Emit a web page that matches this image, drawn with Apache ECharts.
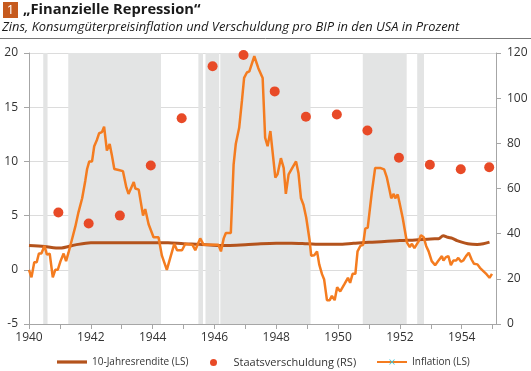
<!DOCTYPE html>
<html><head><meta charset="utf-8">
<script src="https://cdn.jsdelivr.net/npm/echarts@6/dist/echarts.min.js"></script>
<style>html,body{margin:0;padding:0;background:#fff}#c{width:531px;height:371px}</style>
</head><body><div id="c"></div>
<script>
// ---- data ----
const xTickYears = [1940,1942,1944,1946,1948,1950,1952,1954];
const leftTicks = [-5,0,5,10,15,20];
const rightTicks = [0,20,40,60,80,100,120];

const renditeDates = [1940.0,1940.5,1941.0,1941.5,1942.0,1943.0,1944.0,1944.5,1945.0,1945.5,1946.1,1946.5,1947.0,1947.5,1948.0,1948.5,1949.0,1949.5,1950.0,1950.5,1951.0,1951.5,1952.0,1952.5,1953.0,1953.25,1953.4,1953.55,1953.7,1953.85,1954.0,1954.2,1954.35,1954.5,1954.7,1954.9];
const renditeValues = [2.25,2.15,2.0,2.3,2.5,2.5,2.5,2.5,2.4,2.35,2.25,2.25,2.3,2.4,2.45,2.45,2.4,2.35,2.35,2.45,2.55,2.6,2.7,2.75,2.85,2.86,3.15,3.0,2.9,2.7,2.55,2.4,2.35,2.34,2.4,2.55];

const debtDates = [1940.95,1941.93,1942.94,1943.94,1944.94,1945.94,1946.94,1947.95,1948.96,1949.96,1950.95,1951.97,1952.97,1953.97,1954.89];
const debtValues = [49.4,44.5,48.0,70.2,91.1,114.1,119.1,103.0,91.8,92.8,85.7,73.6,70.5,68.5,69.4];

const inflationDates = [1940.00,1940.08,1940.17,1940.25,1940.32,1940.40,1940.50,1940.58,1940.67,1940.77,1940.85,1940.93,1941.02,1941.12,1941.20,1941.28,1941.39,1941.50,1941.60,1941.72,1941.82,1941.88,1941.95,1942.04,1942.11,1942.20,1942.27,1942.36,1942.43,1942.52,1942.61,1942.68,1942.76,1942.90,1943.04,1943.15,1943.22,1943.39,1943.44,1943.55,1943.69,1943.76,1943.87,1944.03,1944.19,1944.30,1944.46,1944.57,1944.70,1944.79,1944.95,1945.06,1945.29,1945.38,1945.54,1945.65,1946.13,1946.21,1946.30,1946.37,1946.53,1946.62,1946.69,1946.80,1946.89,1946.96,1947.05,1947.13,1947.29,1947.42,1947.56,1947.64,1947.72,1947.81,1947.97,1948.04,1948.15,1948.24,1948.31,1948.40,1948.51,1948.64,1948.72,1948.80,1948.88,1948.97,1949.08,1949.13,1949.23,1949.32,1949.39,1949.48,1949.55,1949.64,1949.73,1949.80,1949.89,1949.97,1950.07,1950.21,1950.32,1950.39,1950.47,1950.56,1950.63,1950.72,1950.81,1950.88,1950.96,1951.09,1951.20,1951.36,1951.49,1951.58,1951.67,1951.72,1951.80,1951.85,1951.93,1951.98,1952.09,1952.23,1952.32,1952.39,1952.47,1952.61,1952.68,1952.77,1952.85,1952.93,1953.03,1953.14,1953.25,1953.36,1953.41,1953.49,1953.57,1953.65,1953.73,1953.82,1953.89,1953.98,1954.05,1954.14,1954.23,1954.32,1954.40,1954.51,1954.59,1954.70,1954.81,1954.90,1954.98];
const inflationValues = [0.0,-0.7,0.7,0.7,1.5,1.5,2.2,1.4,1.5,-0.7,0.0,0.0,0.8,1.5,0.8,1.6,2.8,4.0,5.3,6.6,8.2,9.3,10.0,10.0,11.4,12.0,12.6,12.7,13.2,11.0,11.6,10.6,9.3,9.2,9.1,7.6,7.0,8.1,7.5,7.4,5.0,5.6,4.2,3.0,3.0,1.3,0.0,1.1,2.4,1.8,1.8,2.4,2.3,1.8,2.9,2.3,2.3,1.7,2.9,3.4,3.4,9.7,11.6,13.1,15.6,17.7,18.2,18.3,19.7,18.6,17.7,12.2,11.4,12.8,8.5,8.8,10.3,9.4,7.0,8.8,9.35,10.0,8.9,6.6,6.0,4.8,2.7,1.3,1.35,1.7,0.5,-0.4,-0.9,-2.8,-2.8,-2.4,-2.8,-1.6,-2.0,-1.3,-0.74,-1.2,-0.37,-0.37,1.7,2.2,2.3,3.8,3.9,7.1,9.4,9.4,9.26,8.5,7.3,6.6,7.0,6.6,6.95,6.3,4.8,2.5,2.1,2.4,2.0,2.65,3.2,3.0,2.2,1.7,0.8,0.43,0.86,1.26,0.86,1.17,1.26,0.43,0.86,0.86,1.1,0.74,0.86,1.26,1.57,0.95,0.55,0.5,0.18,-0.12,-0.43,-0.74,-0.37];

const bandStarts = [1940.46,1941.27,1945.48,1945.71,1946.19,1950.80,1952.56];
const bandEnds   = [1940.60,1944.27,1945.63,1946.155,1949.11,1952.22,1952.78];

const seriesNames = ['10-Jahresrendite (LS)','Staatsverschuldung (RS)','Inflation (LS)'];

// ---- build ----
const zip = (a,b) => a.map((v,i)=>[v,b[i]]);
const bands = bandStarts.map((s,i)=>[{xAxis:s},{xAxis:bandEnds[i]}]);
const FONT = '"Open Sans", "Noto Sans", sans-serif';
const legendBase = {top:357, padding:0, itemWidth:30, itemHeight:7,
  textStyle:{fontFamily:FONT, fontSize:10, color:'#333'}};

const chart = echarts.init(document.getElementById('c'), null, {renderer:'canvas'});
chart.setOption({
  animation:false,
  backgroundColor:'#fff',
  textStyle:{fontFamily:FONT},
  graphic:[
    {type:'rect', shape:{x:3,y:2,width:15,height:16}, style:{fill:'#c65a1e'}},
    {type:'text', x:10.5, y:10, style:{text:'1', fill:'#fff', font:'13px '+FONT, align:'center', verticalAlign:'middle'}},
    {type:'text', x:23, y:10, style:{text:'„Finanzielle Repression“', fill:'#1a1a1a', font:'bold 14.7px '+FONT, verticalAlign:'middle'}},
    {type:'text', x:2, y:27, style:{text:'Zins, Konsumgüterpreisinflation und Verschuldung pro BIP in den USA in Prozent', fill:'#1a1a1a', font:'italic 12.9px '+FONT, verticalAlign:'middle'}},
    {type:'line', shape:{x1:0,y1:38.5,x2:531,y2:38.5}, style:{stroke:'#777', lineWidth:1}}
  ],
  grid:{left:29, right:35, top:53, bottom:47, containLabel:false},
  legend:[
    Object.assign({}, legendBase, {left:57, data:[{name:seriesNames[0], icon:'path://M0,0H30V3.2H0Z'}]}),
    Object.assign({}, legendBase, {left:210, data:[{name:seriesNames[1], icon:'circle'}],
      textStyle:{fontFamily:FONT, fontSize:11, color:'#333'}}),
    Object.assign({}, legendBase, {left:376, data:[{name:seriesNames[2]}]})
  ],
  xAxis:{
    type:'value', min:1940, max:1955.11, interval:1,
    axisLine:{show:true, onZero:false, lineStyle:{color:'#a6a6a6'}},
    axisTick:{show:true, length:5, lineStyle:{color:'#a6a6a6'}},
    axisLabel:{margin:8, fontSize:12, color:'#333', fontFamily:FONT,
      formatter:v => xTickYears.includes(Math.round(v)) && Math.abs(v-Math.round(v))<1e-6 ? String(Math.round(v)) : '',
      showMaxLabel:false},
    splitLine:{show:false}
  },
  yAxis:[
    {type:'value', min:leftTicks[0], max:leftTicks[leftTicks.length-1], interval:5, position:'left',
     axisLine:{show:true, lineStyle:{color:'#a6a6a6'}},
     axisTick:{show:true, length:5, lineStyle:{color:'#a6a6a6'}},
     axisLabel:{margin:11, fontSize:12, color:'#333', fontFamily:FONT},
     splitLine:{show:true, lineStyle:{color:'#dcdcdc', width:1}}},
    {type:'value', min:rightTicks[0], max:rightTicks[rightTicks.length-1], interval:20, position:'right',
     axisLine:{show:true, lineStyle:{color:'#a6a6a6'}},
     axisTick:{show:true, length:5, lineStyle:{color:'#a6a6a6'}},
     axisLabel:{margin:11, fontSize:12, color:'#333', fontFamily:FONT},
     splitLine:{show:false}}
  ],
  series:[
    {name:seriesNames[0], type:'line', yAxisIndex:0, data:zip(renditeDates,renditeValues),
     symbol:'none', smooth:0.3, lineStyle:{color:'#b4531c', width:3}, itemStyle:{color:'#b4531c'}, z:3,
     markArea:{silent:true, itemStyle:{color:'#e3e4e4', opacity:1}, data:bands, z:1}},
    {name:seriesNames[1], type:'scatter', yAxisIndex:1, data:zip(debtDates,debtValues),
     symbol:'circle', symbolSize:10, itemStyle:{color:'#e84a27', opacity:1}, z:5},
    {name:seriesNames[2], type:'line', yAxisIndex:0, data:zip(inflationDates,inflationValues),
     showSymbol:false, symbol:'path://M0,1L1,0L5,4L9,0L10,1L6,5L10,9L9,10L5,6L1,10L0,9L4,5Z', symbolSize:7,
     lineStyle:{color:'#f47c20', width:2.5}, itemStyle:{color:'#3cc4d4'}, z:4}
  ]
});
</script></body></html>
